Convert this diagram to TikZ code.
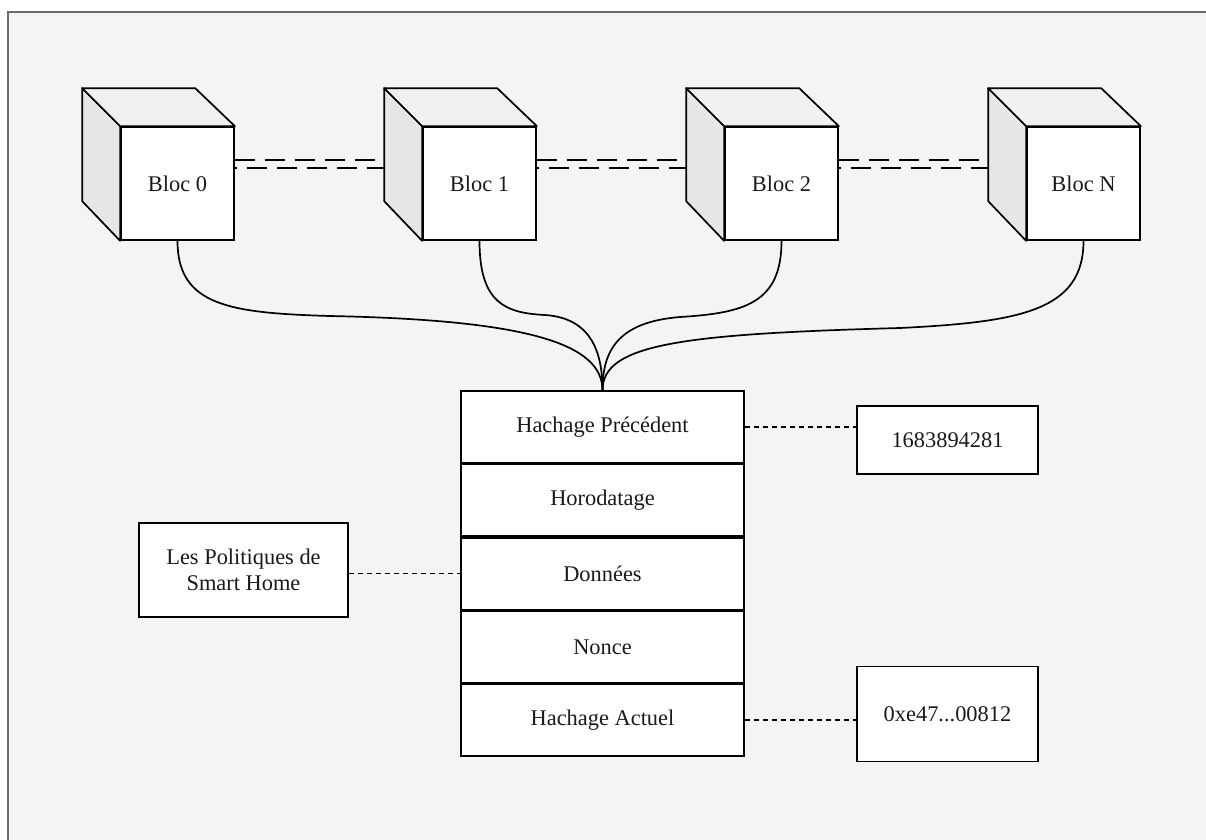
\documentclass[tikz,border=0pt]{standalone}
\usepackage{fontspec}
\setmainfont{Liberation Serif}
\usetikzlibrary{calc}
\definecolor{canvas}{HTML}{F4F4F4}
\definecolor{framegray}{HTML}{6A6A6A}
\definecolor{sideface}{HTML}{E6E6E6}
\definecolor{topface}{HTML}{F0F0F0}
\definecolor{ink}{HTML}{1A1A1A}
\tikzset{
  every node/.style={font=\fontsize{22.4}{26}\selectfont, text=ink},
  front/.style={draw=black, fill=white, line width=1.7pt, minimum width=113pt, minimum height=113pt, inner sep=0pt},
  face/.style={draw=black, line width=1.7pt, line join=round},
  cell/.style={draw=black, fill=white, line width=1.7pt, minimum width=283pt, minimum height=71.6pt, inner sep=0pt},
  infobox/.style={draw=black, fill=white, line width=1.7pt, inner sep=0pt, align=center},
  link/.style={draw=black, line width=1.7pt, dash pattern=on 20pt off 10pt},
  fieldlink/.style={draw=black, line width=1.5pt, dash pattern=on 5pt off 4pt},
  feed/.style={draw=black, line width=1.7pt},
}
\begin{document}
\begin{tikzpicture}[x=1pt, y=-1pt]
\path[use as bounding box] (0,0) rectangle (1206,839);
\fill[white] (0,0) rectangle (1206,839);
\draw[draw=framegray, fill=canvas, line width=2pt] (8,12) rectangle (1230,860);

% chain of blocks drawn as cubes
\foreach \name/\cx/\label in {b0/177.5/Bloc 0, b1/479.5/Bloc 1, b2/781.5/Bloc 2, bn/1083.5/Bloc N}{
  \node[front] (\name) at (\cx,183.5) {\label};
  \filldraw[face, fill=sideface] (\name.north west) -- ++(-38,-38) -- ++(0,113) -- (\name.south west) -- cycle;
  \filldraw[face, fill=topface] (\name.north west) -- ++(-38,-38) -- ++(113,0) -- (\name.north east) -- cycle;
}

% double dashed links between consecutive blocks
\foreach \a/\b in {b0/b1, b1/b2, b2/bn}{
  \coordinate (u) at ($(\a.east)+(0,-23.5)$);
  \coordinate (l) at ($(\a.east)+(0,-15.5)$);
  \draw[link] (u) -- ($(u -| \b.west)+(-38,0)$);
  \draw[link, dash phase=18pt] (l) -- ($(l -| \b.west)+(-38,0)$);
}

% block structure
\node[cell] (r1) at (602.5,427) {Hachage Précédent};
\node[cell, anchor=north] (r2) at (r1.south) {Horodatage};
\node[cell, anchor=north] (r3) at (r2.south) {Données};
\node[cell, anchor=north] (r4) at (r3.south) {Nonce};
\node[cell, anchor=north] (r5) at (r4.south) {Hachage Actuel};

% every block points to the structure
\draw[feed] (b0.south) .. controls +(0,65) and (230,313) .. (330,316)
  .. controls (530,320) and ($(r1.north)+(0,-46)$) .. (r1.north);
\draw[feed] (b1.south) .. controls +(0,62) and (505,313) .. (545,315)
  .. controls (590,318) and ($(r1.north)+(0,-40)$) .. (r1.north);
\draw[feed] (b2.south) .. controls +(0,62) and (745,313) .. (680,317)
  .. controls (618,322) and ($(r1.north)+(0,-40)$) .. (r1.north);
\draw[feed] (bn.south) .. controls +(0,70) and (1020,322) .. (900,328)
  .. controls (680,334) and ($(r1.north)+(0,-46)$) .. (r1.north);

% field values
\node[infobox, minimum width=181pt, minimum height=68pt] (ts) at (947.5,440) {1683894281};
\node[infobox, minimum width=181pt, minimum height=95pt] (hv) at (947.5,714) {0xe47...00812};
\node[infobox, minimum width=209pt, minimum height=94pt] (pol) at (243.5,570) {Les Politiques de\\Smart Home};

\draw[fieldlink] (r1.east) -- (r1.east -| ts.west);
\draw[fieldlink] (pol.east |- r3.west) -- (r3.west);
\draw[fieldlink] (r5.east) -- (r5.east -| hv.west);
\end{tikzpicture}
\end{document}
